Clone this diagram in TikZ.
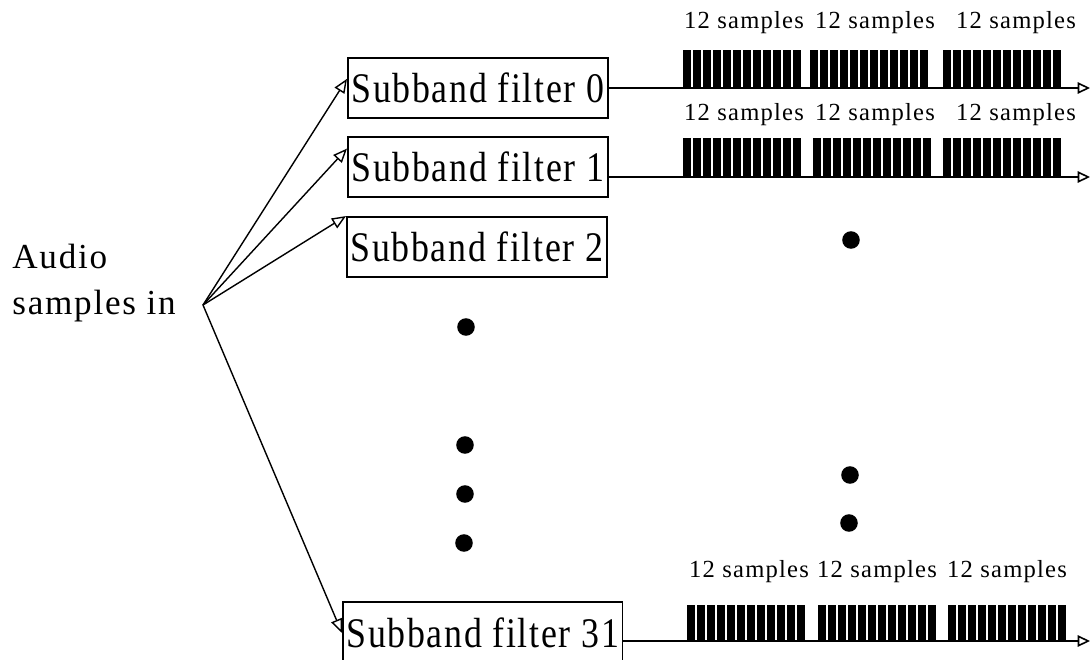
\documentclass[tikz,border=0pt]{standalone}
\usepackage{fontspec}
\usepackage{tikz}
\usetikzlibrary{arrows.meta,positioning}
\newfontfamily\scanfont[LetterSpace=5]{Liberation Serif}
\newfontfamily\boxfont[FakeStretch=0.85,LetterSpace=4]{Liberation Serif}

\begin{document}
\begin{tikzpicture}[x=0.02cm, y=-0.02cm,
    filterbox/.style={rectangle, draw=black, line width=1.1pt, anchor=west, inner xsep=2pt, minimum height=1.2cm, font=\boxfont\fontsize{24}{28}\selectfont},
    samplabel/.style={inner sep=0pt, font=\scanfont\fontsize{14}{16}\selectfont},
    feed/.style={-{Triangle[open,length=8pt,width=6.5pt]}, line width=0.8pt},
    sig/.style={-{Triangle[open,length=7pt,width=6.5pt]}, line width=0.9pt}]

    \useasboundingbox (0,0) rectangle (1091,659);

    % Input
    \node[anchor=north west, align=left, inner sep=0pt, font=\scanfont\fontsize{20}{26}\selectfont] (audio) at (12,244) {Audio\\samples in};
    \coordinate (hub) at (203,305);

    % Subband filter boxes
    \node[filterbox] (f0) at (347,88) {Subband filter 0};
    \node[filterbox] (f1) at (347,167) {Subband filter 1};
    \node[filterbox] (f2) at (346,247) {Subband filter 2};
    \node[filterbox, minimum height=1.24cm] (f31) at (342,633) {Subband filter 31};

    % Arrows into the filters
    \draw[feed] (hub) -- (f0.176);
    \draw[feed] (hub) -- (f1.172);
    \draw[feed] (hub) -- (f2.north west);
    \draw[feed] (hub) -- (f31.west);

    % Output lines
    \coordinate (e0) at (1090,88);
    \coordinate (e1) at (1090,177);
    \coordinate (e31) at (1090,641);
    \draw[sig] (f0.east) -- (e0);
    \draw[sig] (f1.east |- e1) -- (e1);
    \draw[sig] (f31.east |- e31) -- (e31);

    % Sample bars, 12 per group
    \foreach \t/\b/\gl in {50/88/{683,810,943}, 138/177/{683,813,943}, 605/641/{687,818,948}}{
        \foreach \g in \gl{
            \foreach \k in {0,...,11}
                \fill ({\g+\k*10},\t) rectangle ({\g+\k*10+8.3},\b);
        }
    }

    % Group labels
    \node[samplabel] (l00) at (744,23) {12 samples};
    \node[samplabel] (l01) at (875,23) {12 samples};
    \node[samplabel] (l02) at (1016,23) {12 samples};
    \node[samplabel] (l10) at (744,115) {12 samples};
    \node[samplabel] (l11) at (875,115) {12 samples};
    \node[samplabel] (l12) at (1016,115) {12 samples};
    \node[samplabel] (l310) at (749,572) {12 samples};
    \node[samplabel] (l311) at (877,572) {12 samples};
    \node[samplabel] (l312) at (1007,572) {12 samples};

    % Ellipsis dots
    \foreach \p in {(851,240),(466,327),(465,445),(465,494),(464,543),(850,475),(849,523)}
        \fill \p circle[radius=5pt];

\end{tikzpicture}
\end{document}
